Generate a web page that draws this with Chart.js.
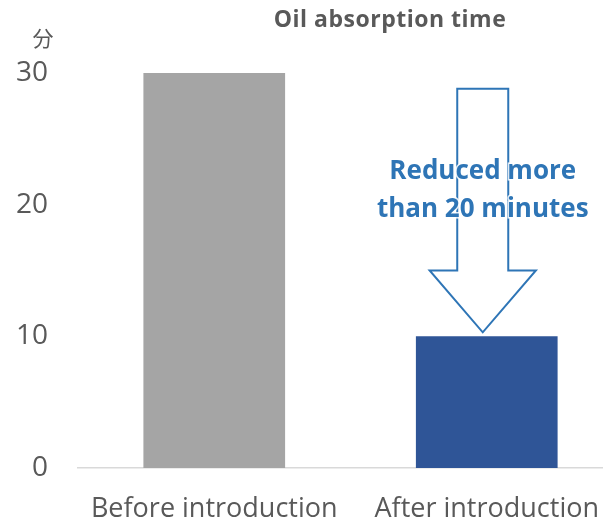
<!DOCTYPE html>
<html>
<head>
<meta charset="utf-8">
<script src="https://cdn.jsdelivr.net/npm/chart.js@4/dist/chart.umd.min.js"></script>
<style>
  html, body { margin: 0; padding: 0; background: #fff; overflow: hidden; }
  #wrap { width: 603px; height: 525px; overflow: hidden; position: relative; }
  canvas { display: block; }
</style>
</head>
<body>
<div id="wrap"><canvas id="c" width="630" height="525"></canvas></div>
<script>
// Oil absorption time, minutes
const categories = ['Before introduction', 'After introduction'];
const minutes = [30, 10];
const barColors = ['#a5a5a5', '#2f5597'];
const yTicks = [0, 10, 20, 30];

const chartTitle = 'Oil absorption time';
const unitLabel = '分';

// Down arrow over the second bar: top of shaft, base of head, tip (axis values)
const arrowTop = 28.8;
const arrowHeadBase = 15;
const arrowTip = minutes[1];
const noteLines = ['Reduced more', 'than 20 minutes'];
const noteValues = [22.5, 19.6];

const textGray = '#595959';
const noteBlue = '#2e75b6';

const overlay = {
  id: 'overlay',
  afterDatasetsDraw(chart) {
    const ctx = chart.ctx;
    const y = chart.scales.y;
    const area = chart.chartArea;
    const bar = chart.getDatasetMeta(0).data[1];
    const cx = bar.x - 4;
    const shaftHalf = bar.width * 0.18;
    const headHalf = bar.width * 0.375;
    const yTop = y.getPixelForValue(arrowTop);
    const yBase = y.getPixelForValue(arrowHeadBase);
    const yTip = y.getPixelForValue(arrowTip) - 4;

    ctx.save();
    ctx.beginPath();
    ctx.moveTo(cx - shaftHalf, yTop);
    ctx.lineTo(cx + shaftHalf, yTop);
    ctx.lineTo(cx + shaftHalf, yBase);
    ctx.lineTo(cx + headHalf, yBase);
    ctx.lineTo(cx, yTip);
    ctx.lineTo(cx - headHalf, yBase);
    ctx.lineTo(cx - shaftHalf, yBase);
    ctx.closePath();
    ctx.fillStyle = '#ffffff';
    ctx.fill();
    ctx.lineWidth = 2;
    ctx.lineJoin = 'miter';
    ctx.strokeStyle = noteBlue;
    ctx.stroke();

    ctx.font = 'bold 26px "Open Sans"';
    ctx.textAlign = 'center';
    ctx.textBaseline = 'middle';
    noteLines.forEach((t, i) => {
      const ty = y.getPixelForValue(noteValues[i]);
      ctx.lineWidth = 3;
      ctx.strokeStyle = 'rgba(255,255,255,0.85)';
      ctx.strokeText(t, cx, ty);
      ctx.fillStyle = noteBlue;
      ctx.fillText(t, cx, ty);
    });

    // Title and unit label
    ctx.fillStyle = textGray;
    ctx.font = 'bold 23px "Open Sans"';
    ctx.letterSpacing = '0.5px';
    ctx.fillText(chartTitle, 390, 20);
    ctx.letterSpacing = '0px';
    ctx.font = '21px "Noto Sans CJK JP"';
    ctx.fillText(unitLabel, area.left - 35, 38);
    ctx.restore();
  }
};

new Chart(document.getElementById('c'), {
  type: 'bar',
  data: {
    labels: categories,
    datasets: [{
      data: minutes,
      backgroundColor: barColors,
      borderWidth: 0,
      categoryPercentage: 1,
      barPercentage: 0.52
    }]
  },
  options: {
    responsive: false,
    animation: false,
    events: [],
    layout: { padding: { top: 73, right: 7, left: 0, bottom: 0 } },
    plugins: { legend: { display: false }, title: { display: false }, tooltip: { enabled: false } },
    scales: {
      x: {
        grid: { display: false, drawTicks: false },
        border: { display: true, color: '#d9d9d9', width: 1.5 },
        ticks: { color: textGray, font: { family: 'Open Sans', size: 27 }, padding: 25, maxRotation: 0, autoSkip: false },
        afterFit(s) { s.height = 57; }
      },
      y: {
        min: 0, max: 30,
        afterBuildTicks(s) { s.ticks = yTicks.map(v => ({ value: v })); },
        grid: { display: false, drawTicks: false },
        border: { display: false },
        ticks: { color: textGray, font: { family: 'Open Sans', size: 28 }, padding: 30 },
        afterFit(s) { s.width = 78; }
      }
    }
  },
  plugins: [overlay]
});
</script>
</body>
</html>
